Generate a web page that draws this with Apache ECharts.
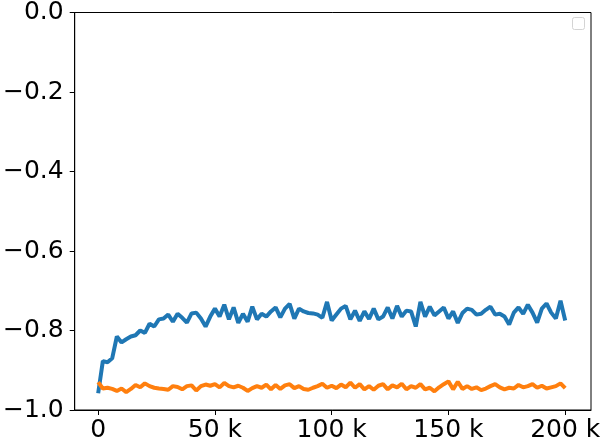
<!DOCTYPE html>
<html>
<head>
<meta charset="utf-8">
<script src="https://cdn.jsdelivr.net/npm/echarts@6/dist/echarts.min.js"></script>
<style>
  html, body { margin: 0; padding: 0; background: #ffffff; }
  #chart { width: 606px; height: 443px; }
</style>
</head>
<body>
<div id="chart"></div>
<script>
// training steps, in thousands
const steps = [
  0, 2, 4, 6, 8, 10, 12, 14, 16, 18, 20, 22, 24, 26, 28, 30, 32, 34, 36, 38,
  40, 42, 44, 46, 48, 50, 52, 54, 56, 58, 60, 62, 64, 66, 68, 70, 72, 74, 76, 78,
  80, 82, 84, 86, 88, 90, 92, 94, 96, 98, 100, 102, 104, 106, 108, 110, 112, 114, 116, 118,
  120, 122, 124, 126, 128, 130, 132, 134, 136, 138, 140, 142, 144, 146, 148, 150, 152, 154, 156, 158,
  160, 162, 164, 166, 168, 170, 172, 174, 176, 178, 180, 182, 184, 186, 188, 190, 192, 194, 196, 198, 200
]

const blueValues = [
  -0.958, -0.877, -0.880, -0.870, -0.815, -0.830, -0.822, -0.815, -0.812, -0.800,
  -0.806, -0.783, -0.790, -0.772, -0.770, -0.760, -0.778, -0.758, -0.768, -0.780,
  -0.757, -0.755, -0.770, -0.790, -0.765, -0.745, -0.765, -0.735, -0.772, -0.742,
  -0.781, -0.758, -0.778, -0.740, -0.772, -0.758, -0.765, -0.752, -0.742, -0.767,
  -0.745, -0.733, -0.770, -0.745, -0.752, -0.756, -0.757, -0.760, -0.768, -0.728,
  -0.775, -0.760, -0.745, -0.738, -0.772, -0.750, -0.776, -0.752, -0.771, -0.745,
  -0.772, -0.765, -0.742, -0.770, -0.738, -0.765, -0.750, -0.752, -0.790, -0.728,
  -0.765, -0.740, -0.762, -0.752, -0.742, -0.770, -0.752, -0.781, -0.756, -0.745,
  -0.748, -0.760, -0.758, -0.748, -0.740, -0.760, -0.758, -0.765, -0.785, -0.755,
  -0.742, -0.758, -0.735, -0.755, -0.780, -0.745, -0.732, -0.755, -0.770, -0.725, -0.775
]

const orangeValues = [
  -0.930, -0.946, -0.944, -0.947, -0.952, -0.946, -0.955, -0.947, -0.937, -0.943,
  -0.933, -0.940, -0.944, -0.946, -0.947, -0.949, -0.940, -0.942, -0.948, -0.940,
  -0.938, -0.951, -0.940, -0.936, -0.939, -0.935, -0.943, -0.932, -0.940, -0.943,
  -0.939, -0.944, -0.952, -0.945, -0.940, -0.944, -0.936, -0.948, -0.937, -0.947,
  -0.938, -0.935, -0.945, -0.940, -0.947, -0.949, -0.944, -0.940, -0.934, -0.944,
  -0.939, -0.945, -0.936, -0.943, -0.931, -0.944, -0.935, -0.948, -0.940, -0.949,
  -0.939, -0.935, -0.948, -0.938, -0.943, -0.934, -0.948, -0.940, -0.944, -0.935,
  -0.948, -0.944, -0.953, -0.943, -0.935, -0.928, -0.948, -0.929, -0.947, -0.940,
  -0.947, -0.943, -0.950, -0.946, -0.940, -0.935, -0.943, -0.948, -0.944, -0.946,
  -0.937, -0.943, -0.940, -0.935, -0.944, -0.939, -0.946, -0.943, -0.940, -0.933, -0.945
]

const xTicks = [0, 50, 100, 150, 200]

const font = 'DejaVu Sans'
const chart = echarts.init(document.getElementById('chart'))

function pairs(values) {
  return steps.map((s, i) => [s, values[i]])
}

chart.setOption({
  animation: false,
  backgroundColor: '#ffffff',
  grid: {
    left: 74,
    right: 15,
    top: 10.5,
    bottom: 32,
    show: true,
    borderColor: '#000000',
    borderWidth: 1,
    backgroundColor: 'transparent',
  },
  xAxis: {
    type: 'value',
    min: -10.05,
    max: 211.05,
    axisLine: { show: true, onZero: false, lineStyle: { color: '#000000', width: 1 } },
    axisTick: {
      show: true,
      inside: false,
      length: 5,
      customValues: xTicks,
      lineStyle: { color: '#000000', width: 1 },
    },
    axisLabel: {
      customValues: xTicks,
      margin: 8,
      color: '#000000',
      fontFamily: font,
      fontSize: 25,
      formatter: (v) => (v === 0 ? '0' : v + ' k'),
    },
    splitLine: { show: false },
  },
  yAxis: {
    type: 'value',
    min: -1,
    max: 0,
    interval: 0.2,
    axisLine: { show: true, onZero: false, lineStyle: { color: '#000000', width: 1 } },
    axisTick: { show: true, inside: false, length: 5, lineStyle: { color: '#000000', width: 1 } },
    axisLabel: {
      margin: 11,
      color: '#000000',
      fontFamily: font,
      fontSize: 25,
      formatter: (v) => v.toFixed(1).replace('-', '\u2212'),
    },
    splitLine: { show: false },
  },
  graphic: [
    {
      type: 'rect',
      left: 572,
      top: 17,
      shape: { width: 12, height: 12, r: 2 },
      style: { fill: '#ffffff', stroke: '#d4d4d4', lineWidth: 1 },
    },
  ],
  series: [
    {
      type: 'line',
      data: pairs(blueValues),
      showSymbol: false,
      lineStyle: { color: '#1f77b4', width: 4 },
      itemStyle: { color: '#1f77b4' },
    },
    {
      type: 'line',
      data: pairs(orangeValues),
      showSymbol: false,
      lineStyle: { color: '#ff7f0e', width: 4 },
      itemStyle: { color: '#ff7f0e' },
    },
  ],
})
</script>
</body>
</html>
